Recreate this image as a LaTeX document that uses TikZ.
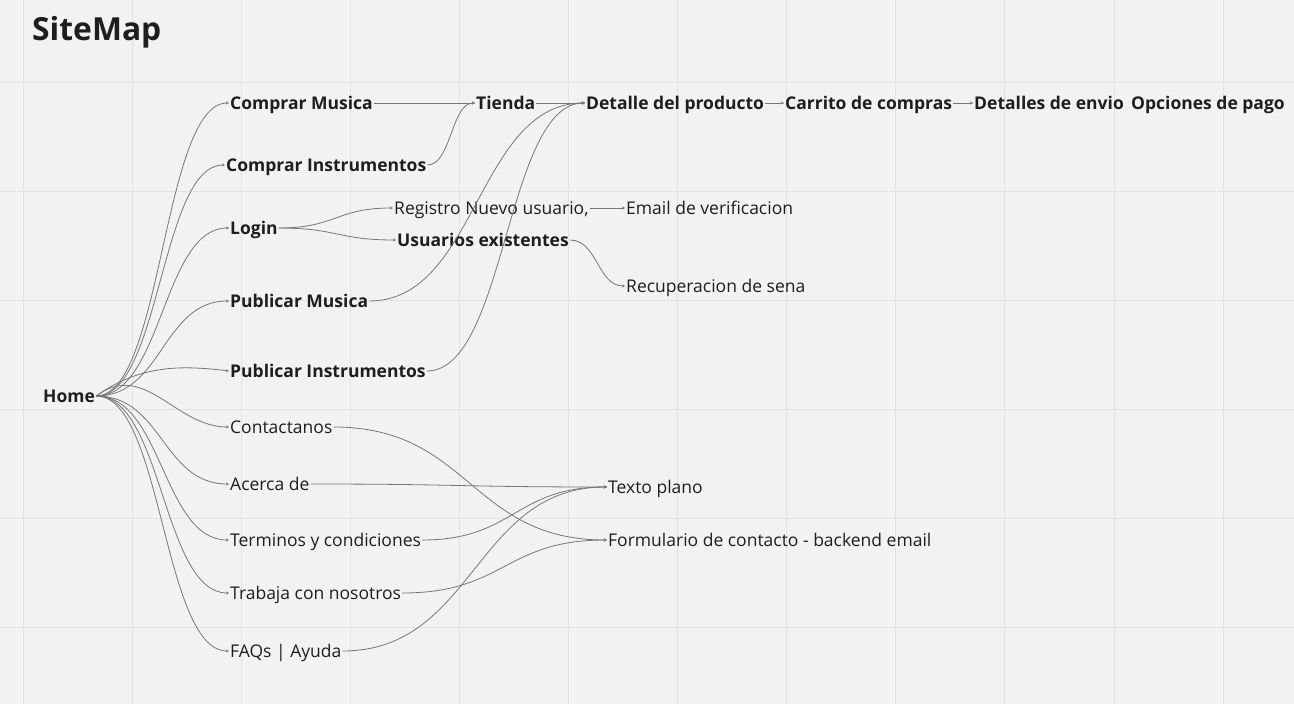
\documentclass[tikz,border=0pt]{standalone}
\usepackage{fontspec}
\setmainfont{Open Sans}
\usetikzlibrary{calc,arrows.meta}
\definecolor{bg}{HTML}{F2F2F2}
\definecolor{gridc}{HTML}{E3E3E3}
\definecolor{linec}{HTML}{777777}
\definecolor{txt}{HTML}{1E1E1E}
\tikzset{
  lbl/.style={anchor=west, inner xsep=1pt, inner ysep=0pt, text height=12.5pt, text depth=0pt,
    font=\fontsize{17.5}{19}\selectfont, text=txt},
  blbl/.style={lbl, font=\fontsize{17.5}{19}\selectfont\bfseries},
  conn/.style={draw=linec, line width=0.8pt, -{Stealth[length=3pt,width=3pt]}},
  hc/.style={to path={let \p1=(\tikztostart), \p2=(\tikztotarget), \n1={0.5*(\x2-\x1)} in
    .. controls ([xshift=\n1]\p1) and ([xshift=-\n1]\p2) .. (\tikztotarget) \tikztonodes}}
}
\begin{document}
\begin{tikzpicture}[x=1pt,y=-1pt]
\fill[bg] (0,0) rectangle (1294,704);
\useasboundingbox (0,0) rectangle (1294,704);
\foreach \i in {0,...,11} {\draw[gridc, line width=1pt] ({23+109.1*\i},0) -- ({23+109.1*\i},704);}
\foreach \j in {0,...,5} {\draw[gridc, line width=1pt] (0,{82+109.1*\j}) -- (1294,{82+109.1*\j});}

\node[anchor=west, inner sep=0pt, font=\fontsize{31.8}{34}\bfseries, text=txt] (title) at (32,32) {SiteMap};

\node[blbl] (home) at (42,396) {Home};
\node[blbl] (cm) at (229,103) {Comprar Musica};
\node[blbl] (ci) at (225,165) {Comprar Instrumentos};
\node[blbl] (login) at (229,228) {Login};
\node[blbl] (pm) at (229,301) {Publicar Musica};
\node[blbl] (pi) at (229,371) {Publicar Instrumentos};
\node[lbl] (cont) at (229,427) {Contactanos};
\node[lbl] (acerca) at (229,484) {Acerca de};
\node[lbl] (term) at (229,540) {Terminos y condiciones};
\node[lbl] (trab) at (229,593) {Trabaja con nosotros};
\node[lbl] (faq) at (229,651) {FAQs | Ayuda};
\node[blbl] (tienda) at (475,103) {Tienda};
\node[blbl] (detalle) at (585,103) {Detalle del producto};
\node[blbl] (carrito) at (784,103) {Carrito de compras};
\node[blbl] (envio) at (973,103) {Detalles de envio};
\node[blbl] (pago) at (1130,103) {Opciones de pago};
\node[lbl] (reg) at (393,208) {Registro Nuevo usuario,};
\node[lbl] (email) at (625,208) {Email de verificacion};
\node[blbl] (usu) at (396,240) {Usuarios existentes};
\node[lbl] (rec) at (625,286) {Recuperacion de sena};
\node[lbl] (texto) at (607,487) {Texto plano};
\node[lbl] (form) at (607,540) {Formulario de contacto - backend email};

\foreach \t in {cm,ci,login,pm,term,trab,faq,acerca}
  {\draw[conn] (home.east) to[hc] (\t.west);}
\draw[conn] (home.east) .. controls (140,365) and (180,365) .. (pi.west);
\draw[conn] (home.east) .. controls (145,360) and (175,427) .. (cont.west);

\draw[conn] (cm.east) to[hc] (tienda.west);
\draw[conn] (ci.east) to[hc] (tienda.west);
\draw[conn] (tienda.east) to[hc] (detalle.west);
\draw[conn] (pm.east) to[hc] (detalle.west);
\draw[conn] (pi.east) to[hc] (detalle.west);
\draw[conn] (detalle.east) to[hc] (carrito.west);
\draw[conn] (carrito.east) to[hc] (envio.west);
\draw[conn] (login.east) to[hc] (reg.west);
\draw[conn] (login.east) to[hc] (usu.west);
\draw[conn] (reg.east) to[hc] (email.west);
\draw[conn] (usu.east) to[hc] (rec.west);
\draw[conn] (cont.east) to[hc] (form.west);
\draw[conn] (acerca.east) to[hc] (texto.west);
\draw[conn] (term.east) to[hc] (texto.west);
\draw[conn] (trab.east) to[hc] (form.west);
\draw[conn] (faq.east) to[hc] (texto.west);
\end{tikzpicture}
\end{document}
